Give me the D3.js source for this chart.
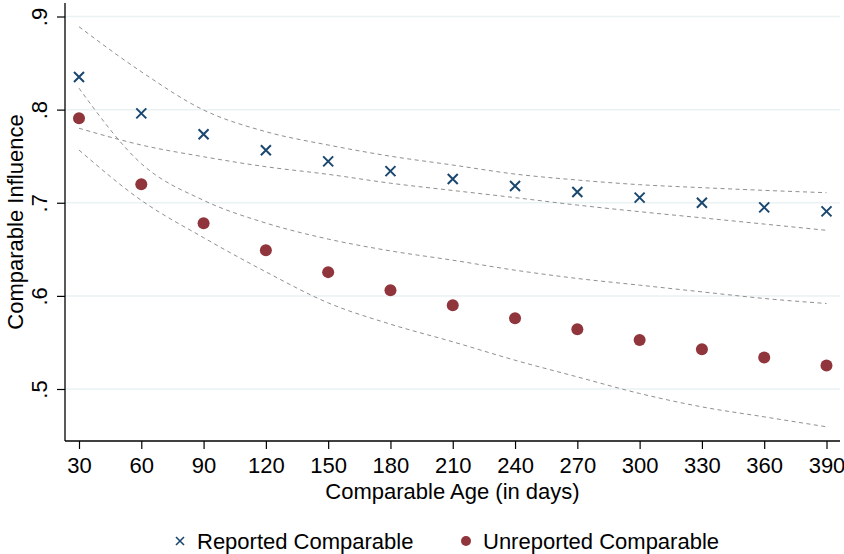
<!DOCTYPE html>
<html>
<head>
<meta charset="utf-8">
<script src="https://cdn.jsdelivr.net/npm/d3@7"></script>
<style>
  body { margin: 0; background: #fff; }
  text { font-family: "Liberation Sans", Arial, sans-serif; fill: #000; }
</style>
</head>
<body>
<svg class="chart-svg"></svg>
<script>
// age of the comparable, in days
const days = [30, 60, 90, 120, 150, 180, 210, 240, 270, 300, 330, 360, 390];

// point estimates
const reported = [0.835, 0.796, 0.7735, 0.7563, 0.7444, 0.734, 0.7255, 0.718, 0.7115, 0.7055, 0.700, 0.695, 0.6907];
const unreported = [0.7907, 0.7198, 0.678, 0.6489, 0.6255, 0.6061, 0.590, 0.576, 0.5642, 0.5527, 0.5428, 0.5338, 0.5253];

// confidence bands (dashed)
const reportedHi = [0.889, 0.8407, 0.7996, 0.7763, 0.762, 0.750, 0.7405, 0.7308, 0.7244, 0.7194, 0.7162, 0.7133, 0.7108];
const reportedLo = [0.780, 0.762, 0.7494, 0.7387, 0.7305, 0.721, 0.7132, 0.7055, 0.6975, 0.6904, 0.6838, 0.6771, 0.6704];
const unreportedHi = [0.823, 0.742, 0.7026, 0.6782, 0.661, 0.6483, 0.6383, 0.6276, 0.6187, 0.6115, 0.6043, 0.5972, 0.5918];
const unreportedLo = [0.7566, 0.7026, 0.6625, 0.6258, 0.5925, 0.5696, 0.5507, 0.5309, 0.5130, 0.4952, 0.4808, 0.4701, 0.4594];

const yTicks = [0.5, 0.6, 0.7, 0.8, 0.9];

const width = 844, height = 554;
// plot region edges
const plot = { left: 65, right: 840, top: 3, bottom: 441 };

const navy = '#1a476f';
const maroon = '#90353b';

const svg = d3.select('.chart-svg')
  .attr('width', width)
  .attr('height', height);

const x = d3.scaleLinear()
  .domain([30, 390])
  .range([79, 826.5]);

const y = d3.scaleLinear()
  .domain([0.5, 0.9])
  .range([389, 16.5]);

// grid lines
svg.append('g')
  .selectAll('line')
  .data(yTicks)
  .enter()
  .append('line')
  .attr('x1', plot.left)
  .attr('x2', plot.right)
  .attr('y1', d => y(d))
  .attr('y2', d => y(d))
  .attr('stroke', '#eaf2f3')
  .attr('stroke-width', 1.5);

// y axis
const yAxis = svg.append('g')
  .attr('transform', `translate(${plot.left},0)`)
  .call(d3.axisLeft(y)
    .tickValues(yTicks)
    .tickSize(8)
    .tickFormat(d => d3.format('.1f')(d).replace(/^0/, '')));

yAxis.select('.domain').remove();
yAxis.selectAll('.tick line').attr('stroke', '#000').attr('stroke-width', 1.2);
yAxis.selectAll('.tick text')
  .attr('x', 0)
  .attr('y', -18)
  .attr('dy', 0)
  .attr('transform', 'rotate(-90)')
  .attr('text-anchor', 'middle')
  .style('font-size', '22px')
  .attr('font-family', null);

// x axis
const xAxis = svg.append('g')
  .attr('transform', `translate(0,${plot.bottom})`)
  .call(d3.axisBottom(x)
    .tickValues(days)
    .tickSize(8)
    .tickPadding(8));

xAxis.select('.domain').remove();
xAxis.selectAll('.tick line').attr('stroke', '#000').attr('stroke-width', 1.2);
xAxis.selectAll('.tick text')
  .style('font-size', '22px')
  .attr('font-family', null);

// axis lines spanning the whole plot region
svg.append('line')
  .attr('x1', plot.left).attr('x2', plot.left)
  .attr('y1', plot.top).attr('y2', plot.bottom)
  .attr('stroke', '#000').attr('stroke-width', 1.3);
svg.append('line')
  .attr('x1', plot.left).attr('x2', plot.right)
  .attr('y1', plot.bottom).attr('y2', plot.bottom)
  .attr('stroke', '#000').attr('stroke-width', 1.3);

// axis titles
svg.append('text')
  .attr('transform', `translate(23,${(plot.top + plot.bottom) / 2}) rotate(-90)`)
  .attr('text-anchor', 'middle')
  .style('font-size', '22px')
  .text('Comparable Influence');

svg.append('text')
  .attr('x', (plot.left + plot.right) / 2)
  .attr('y', 498.5)
  .attr('text-anchor', 'middle')
  .style('font-size', '22px')
  .text('Comparable Age (in days)');

// dashed confidence bands
const line = d3.line()
  .x((d, i) => x(days[i]))
  .y(d => y(d))
  .curve(d3.curveMonotoneX);

[reportedHi, reportedLo, unreportedHi, unreportedLo].forEach(band => {
  svg.append('path')
    .attr('d', line(band))
    .attr('fill', 'none')
    .attr('stroke', '#8f8f8f')
    .attr('stroke-width', 1)
    .attr('stroke-dasharray', '4,3.5');
});

// unreported: filled circles
svg.append('g')
  .selectAll('circle')
  .data(unreported)
  .enter()
  .append('circle')
  .attr('cx', (d, i) => x(days[i]))
  .attr('cy', d => y(d))
  .attr('r', 6)
  .attr('fill', maroon);

// reported: x markers
const cross = 5;
const crossPath = `M${-cross},${-cross}L${cross},${cross}M${-cross},${cross}L${cross},${-cross}`;

svg.append('g')
  .selectAll('path')
  .data(reported)
  .enter()
  .append('path')
  .attr('transform', (d, i) => `translate(${x(days[i])},${y(d)})`)
  .attr('d', crossPath)
  .attr('stroke', navy)
  .attr('stroke-width', 2)
  .attr('fill', 'none');

// legend
const legend = svg.append('g');

legend.append('path')
  .attr('transform', 'translate(180,541)')
  .attr('d', `M-4,-4L4,4M-4,4L4,-4`)
  .attr('stroke', navy)
  .attr('stroke-width', 1.6);

legend.append('text')
  .attr('x', 197)
  .attr('y', 549)
  .style('font-size', '22px')
  .text('Reported Comparable');

legend.append('circle')
  .attr('cx', 466)
  .attr('cy', 541)
  .attr('r', 5)
  .attr('fill', maroon);

legend.append('text')
  .attr('x', 483)
  .attr('y', 549)
  .style('font-size', '22px')
  .text('Unreported Comparable');
</script>
</body>
</html>
